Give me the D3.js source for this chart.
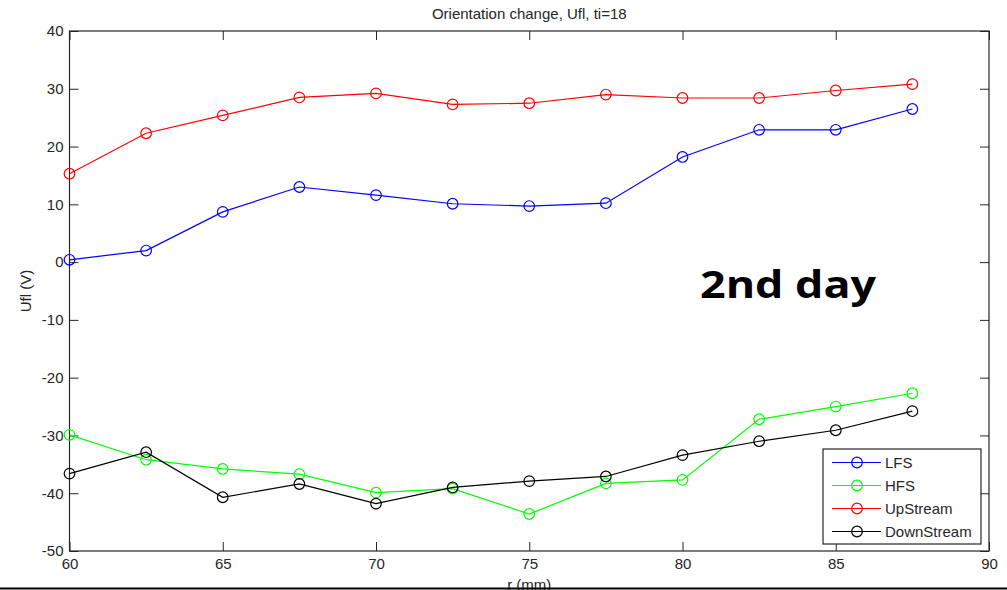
<!DOCTYPE html>
<html>
<head>
<meta charset="utf-8">
<script src="https://cdn.jsdelivr.net/npm/d3@7"></script>
<style>
  body { margin: 0; background: #fff; }
  svg { display: block; }
  .tick text, .lbl { font-family: "Liberation Sans", Arial, sans-serif; fill: #262626; }
</style>
</head>
<body>
<div id="container"></div>
<script>
// r positions (mm)
var rValues = [60, 62.5, 65, 67.5, 70, 72.5, 75, 77.5, 80, 82.5, 85, 87.5];

// Ufl (V) per probe
var lfs        = [0.4, 2.0, 8.7, 13.0, 11.6, 10.1, 9.7, 10.2, 18.2, 22.9, 22.9, 26.5];
var hfs        = [-29.9, -34.2, -35.8, -36.7, -39.9, -39.2, -43.6, -38.3, -37.7, -27.2, -25.0, -22.7];
var upStream   = [15.3, 22.3, 25.4, 28.5, 29.2, 27.3, 27.5, 29.0, 28.4, 28.4, 29.7, 30.8];
var downStream = [-36.6, -32.9, -40.7, -38.4, -41.8, -39.0, -37.9, -37.1, -33.4, -31.0, -29.1, -25.8];

var seriesNames  = ["LFS", "HFS", "UpStream", "DownStream"];
var seriesColors = ["#0000ff", "#00ff00", "#ff0000", "#000000"];
var seriesValues = [lfs, hfs, upStream, downStream];

var xTicks = [60, 65, 70, 75, 80, 85, 90];
var yTicks = [-50, -40, -30, -20, -10, 0, 10, 20, 30, 40];

var width = 1007, height = 590;
var margin = {top: 31, right: 18, bottom: 39, left: 69.5};
var w = width - margin.left - margin.right;
var h = height - margin.top - margin.bottom;

var svg = d3.select("#container").append("svg")
    .attr("width", width)
    .attr("height", height);

var g = svg.append("g")
    .attr("transform", "translate(" + margin.left + "," + margin.top + ")");

var x = d3.scaleLinear().domain([60, 90]).range([0, w]);
var y = d3.scaleLinear().domain([-50, 40]).range([h, 0]);

// plain hyphen for negatives, like the original
var fmt = function(d) { return String(d); };

// axes, matlab style: ticks pointing inwards on all four sides
var xAxis = d3.axisBottom(x).tickValues(xTicks).tickSize(-9).tickPadding(7).tickFormat(fmt);
var yAxis = d3.axisLeft(y).tickValues(yTicks).tickSize(-9).tickPadding(6).tickFormat(fmt);

g.append("g")
    .attr("transform", "translate(0," + h + ")")
    .call(xAxis)
    .call(function(s) { s.select(".domain").remove(); });

g.append("g")
    .call(yAxis)
    .call(function(s) { s.select(".domain").remove(); });

g.append("g")
    .call(d3.axisTop(x).tickValues(xTicks).tickSize(-9).tickFormat(""))
    .call(function(s) { s.select(".domain").remove(); });

g.append("g")
    .attr("transform", "translate(" + w + ",0)")
    .call(d3.axisRight(y).tickValues(yTicks).tickSize(-9).tickFormat(""))
    .call(function(s) { s.select(".domain").remove(); });

g.selectAll(".tick line").attr("stroke", "#262626");
g.selectAll(".tick text").attr("font-size", 15);

g.append("rect")
    .attr("width", w)
    .attr("height", h)
    .attr("fill", "none")
    .attr("stroke", "#262626")
    .attr("stroke-width", 1.2);

var line = d3.line()
    .x(function(d, i) { return x(rValues[i]); })
    .y(function(d) { return y(d); });

seriesValues.forEach(function(vals, k) {
    g.append("path")
        .datum(vals)
        .attr("fill", "none")
        .attr("stroke", seriesColors[k])
        .attr("stroke-width", 1.2)
        .attr("d", line);

    g.selectAll(".pt" + k)
        .data(vals)
        .enter().append("circle")
        .attr("class", "pt" + k)
        .attr("cx", function(d, i) { return x(rValues[i]); })
        .attr("cy", function(d) { return y(d); })
        .attr("r", 5.3)
        .attr("fill", "none")
        .attr("stroke", seriesColors[k])
        .attr("stroke-width", 1.2);
});

// titles
svg.append("text").attr("class", "lbl")
    .attr("x", margin.left + w / 2).attr("y", 19)
    .attr("text-anchor", "middle").attr("font-size", 15)
    .text("Orientation change, Ufl, ti=18");

svg.append("text").attr("class", "lbl")
    .attr("x", margin.left + w / 2).attr("y", 590)
    .attr("text-anchor", "middle").attr("font-size", 15)
    .text("r (mm)");

svg.append("text").attr("class", "lbl")
    .attr("transform", "translate(31," + (margin.top + y(-5)) + ") rotate(-90)")
    .attr("text-anchor", "middle").attr("font-size", 15)
    .text("Ufl (V)");

// annotation (stretched a little, the slide text is wide)
svg.append("text")
    .attr("transform", "translate(700,298) scale(1.18,1)")
    .attr("font-family", "'Open Sans', sans-serif")
    .attr("font-weight", "bold")
    .attr("font-size", 38)
    .attr("fill", "#000")
    .text("2nd day");

// legend
var lg = svg.append("g").attr("transform", "translate(823,449)");
lg.append("rect")
    .attr("width", 158).attr("height", 95)
    .attr("fill", "#fff").attr("stroke", "#262626").attr("stroke-width", 1.2);

seriesNames.forEach(function(name, k) {
    var yy = 13.5 + k * 23;
    lg.append("line")
        .attr("x1", 9).attr("x2", 58).attr("y1", yy).attr("y2", yy)
        .attr("stroke", seriesColors[k]).attr("stroke-width", 1.2);
    lg.append("circle")
        .attr("cx", 34).attr("cy", yy).attr("r", 5.3)
        .attr("fill", "none").attr("stroke", seriesColors[k]).attr("stroke-width", 1.2);
    lg.append("text").attr("class", "lbl")
        .attr("x", 62).attr("y", yy + 5.5)
        .attr("font-size", 15)
        .text(name);
});

// slide border at the bottom
svg.append("line")
    .attr("x1", 0).attr("x2", width).attr("y1", 588.5).attr("y2", 588.5)
    .attr("stroke", "#000").attr("stroke-width", 2);
</script>
</body>
</html>
